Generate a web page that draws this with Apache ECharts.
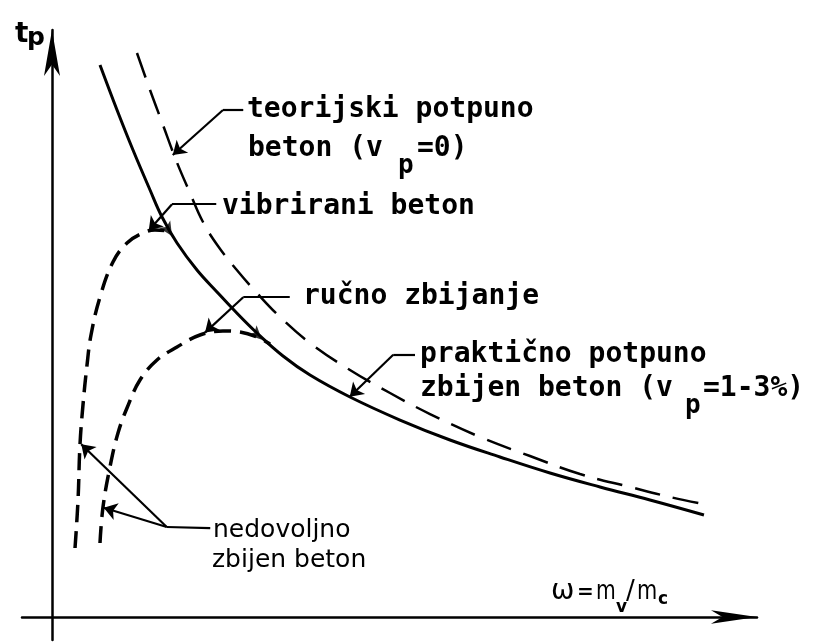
<!DOCTYPE html>
<html>
<head>
<meta charset="utf-8">
<script src="https://cdn.jsdelivr.net/npm/echarts@6/dist/echarts.min.js"></script>
<style>
  html, body { margin: 0; padding: 0; background: #fff; }
  #chart { width: 819px; height: 642px; }
</style>
</head>
<body>
<div id="chart"></div>
<script>
  // proizvoljne jedinice: x = omega (mv/mc), y = tp
  var praktickiBeton = [[6.40, 92.00], [8.67, 84.50], [10.80, 77.83], [13.07, 71.17], [14.67, 66.67],
    [16.67, 62.33], [19.33, 57.83], [22.00, 54.17], [24.13, 51.33], [27.33, 47.33], [30.80, 43.50],
    [34.40, 40.33], [39.73, 36.67], [46.40, 32.83], [53.07, 29.50], [59.73, 26.67], [66.40, 24.00],
    [73.07, 21.67], [79.73, 19.50], [86.93, 17.00]];
  var teorijskiBeton = [[11.33, 94.00], [13.07, 87.83], [14.80, 82.00], [16.53, 76.17], [18.40, 70.67],
    [20.13, 65.83], [22.13, 61.83], [24.53, 58.00], [27.20, 54.17], [30.40, 50.00], [34.40, 45.67],
    [39.73, 41.17], [45.07, 37.33], [50.40, 33.83], [57.07, 30.00], [63.73, 26.83], [70.40, 23.83],
    [77.07, 21.67], [82.40, 20.00], [87.47, 18.67]];
  var vibriraniBeton = [[3.07, 11.50], [3.47, 19.50], [3.73, 28.67], [4.13, 35.33], [4.67, 42.00],
    [5.20, 47.00], [6.40, 53.33], [8.13, 59.17], [10.00, 62.33], [12.13, 64.00], [13.73, 64.50],
    [15.33, 64.33], [16.13, 64.00]];
  var rucnoZbijanje = [[6.40, 12.33], [6.80, 18.33], [7.73, 25.00], [8.80, 30.67], [10.00, 34.83],
    [11.73, 39.50], [14.00, 42.83], [16.67, 45.00], [19.73, 47.00], [22.80, 47.67], [25.07, 47.50],
    [27.33, 46.67], [29.07, 45.50]];
  // smjer kretanja po krivulji: [x, y, kut]
  var smjerStrelice = [[16.0, 63.5, -148], [28.0, 46.2, -134]];
  // pokazne linije do natpisa
  var pokazneLinije = [
    [[25.5, 84.5], [22.8, 84.5]],
    [[21.9, 68.8], [16.0, 68.8]],
    [[31.7, 53.3], [25.5, 53.3]],
    [[48.4, 43.7], [45.5, 43.7]],
    [[21.1, 14.8], [15.3, 15.0]]
  ];
  var pokazneStrelice = [
    [[22.8, 84.5], [16.1, 77.0]],
    [[16.0, 68.8], [12.9, 64.4]],
    [[25.5, 53.3], [20.4, 47.4]],
    [[45.5, 43.7], [39.7, 36.7]],
    [[15.3, 15.0], [3.9, 28.8]],
    [[15.3, 15.0], [6.9, 18.2]]
  ];

  var MONO = '"DejaVu Sans Mono"';
  var SANS = '"DejaVu Sans"';

  function txt(str, x, baseline, size, family, weight, sx) {
    return {
      type: 'text',
      x: x,
      y: baseline - 0.3 * size,
      scaleX: sx || 1,
      style: {
        text: str,
        font: (weight || 'bold') + ' ' + size + 'px ' + family,
        fill: '#000',
        align: 'left',
        verticalAlign: 'middle'
      }
    };
  }

  var texts = [
    txt('t', 15, 43, 28, SANS),
    txt('p', 27, 46, 25, SANS),
    txt('teorijski potpuno', 247, 118, 28, MONO),
    txt('beton (v', 248, 157, 28, MONO),
    txt('p', 398, 174, 26, MONO),
    txt('=0)', 417, 157, 28, MONO),
    txt('vibrirani beton', 222, 215, 28, MONO),
    txt('ručno zbijanje', 303, 305, 28, MONO),
    txt('praktično potpuno', 420, 363, 28, MONO),
    txt('zbijen beton (v', 420, 397, 28, MONO),
    txt('p', 685, 414, 26, MONO),
    txt('=1-3%)', 703, 397, 28, MONO),
    txt('nedovoljno', 213, 538, 25, SANS, 'normal'),
    txt('zbijen beton', 212, 568, 25, SANS, 'normal'),
    txt('ω', 551, 600, 28, SANS, 'normal'),
    txt('=', 577, 599, 20, SANS, 'bold'),
    txt('m', 596, 600, 26, SANS, 'normal', 0.78),
    txt('v', 616, 613, 17, SANS, 'bold'),
    txt('/', 626, 600, 26, SANS, 'normal'),
    txt('m', 637, 600, 26, SANS, 'normal', 0.8),
    txt('c', 658, 605, 17, SANS, 'bold')
  ];

  var axisCommon = {
    type: 'value',
    axisLine: {
      onZero: true,
      symbol: ['none', 'arrow'],
      lineStyle: { color: '#000', width: 2.5 }
    },
    axisTick: { show: false },
    axisLabel: { show: false },
    splitLine: { show: false }
  };

  function curve(name, data, width, dash) {
    return {
      name: name,
      type: 'line',
      data: data,
      smooth: 0.4,
      showSymbol: false,
      lineStyle: { color: '#000', width: width, type: dash || 'solid' }
    };
  }

  var option = {
    backgroundColor: '#fff',
    animation: false,
    grid: { left: 22, right: 62, top: 30, bottom: 2, containLabel: false },
    xAxis: echarts.util.merge({ min: -4, max: 94, axisLine: { symbolSize: [10, 46] } }, axisCommon, true),
    yAxis: echarts.util.merge({ min: -23 / 6, max: 587 / 6, axisLine: { symbolSize: [12, 46] } }, axisCommon, true),
    graphic: texts,
    series: [
      curve('praktično potpuno zbijen beton', praktickiBeton, 3),
      curve('teorijski potpuno zbijen beton', teorijskiBeton, 2.5, [26, 13]),
      curve('vibrirani beton', vibriraniBeton, 3.5, [17, 9]),
      curve('ručno zbijanje', rucnoZbijanje, 3.5, [17, 9]),
      {
        type: 'scatter',
        symbol: 'arrow',
        symbolSize: [10, 14],
        itemStyle: { color: '#000' },
        data: smjerStrelice.map(function(d) {
          return { value: [d[0], d[1]], symbolRotate: d[2] };
        })
      },
      {
        type: 'lines',
        coordinateSystem: 'cartesian2d',
        symbol: ['none', 'none'],
        lineStyle: { color: '#000', width: 2.2, opacity: 1 },
        data: pokazneLinije.map(function(c) { return { coords: c }; })
      },
      {
        type: 'lines',
        coordinateSystem: 'cartesian2d',
        symbol: ['none', 'arrow'],
        symbolSize: 13,
        lineStyle: { color: '#000', width: 2.2, opacity: 1 },
        data: pokazneStrelice.map(function(c) { return { coords: c }; })
      }
    ]
  };

  var myChart = echarts.init(document.getElementById('chart'));
  myChart.setOption(option, true);
</script>
</body>
</html>
